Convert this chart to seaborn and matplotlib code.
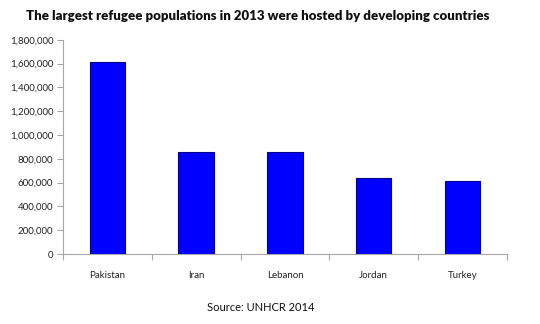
import matplotlib
matplotlib.use("Agg")
import matplotlib.pyplot as plt
import seaborn as sns
import pandas as pd
import numpy as np
from matplotlib.ticker import FuncFormatter, FixedLocator

countries = ["Pakistan", "Iran", "Lebanon", "Jordan", "Turkey"]
refugees = [1616507, 857354, 856546, 641915, 609938]
y_ticks = [0, 200000, 400000, 600000, 800000, 1000000, 1200000, 1400000, 1600000, 1800000]

sns.set_theme(style="white")
plt.rcParams["font.family"] = ["Lato", "DejaVu Sans"]

df = pd.DataFrame({"country": countries, "refugees": refugees})

fig = plt.figure(figsize=(5.4, 3.24), dpi=100)
ax = fig.add_axes([0.1167, 0.216, 0.822, 0.661])

sns.barplot(data=df, x="country", y="refugees", ax=ax, color="#0000FF",
            edgecolor="#00008B", linewidth=0.8, width=0.4, saturation=1)

ax.set_xlim(-0.5, len(countries) - 0.5)
ax.set_ylim(0, 1800000)
ax.set_yticks(y_ticks)
ax.yaxis.set_major_formatter(FuncFormatter(lambda v, p: f"{int(v):,}"))
ax.set_xlabel("")
ax.set_ylabel("")

for side in ["top", "right"]:
    ax.spines[side].set_visible(False)
for side in ["left", "bottom"]:
    ax.spines[side].set_color("#A6A6A6")
    ax.spines[side].set_linewidth(0.8)

ax.tick_params(axis="y", which="major", left=True, length=4, width=0.8,
               color="#A6A6A6", labelsize=7, labelcolor="#222222", pad=3)
ax.tick_params(axis="x", which="major", bottom=False, labelsize=7,
               labelcolor="#222222", pad=6)
ax.xaxis.set_minor_locator(FixedLocator(np.arange(-0.5, len(countries), 1.0)))
ax.tick_params(axis="x", which="minor", bottom=True, length=4, width=0.8,
               color="#A6A6A6")

fig.text(0.478, 0.95, "The largest refugee populations in 2013 were hosted by developing countries",
         ha="center", va="center", fontsize=9.5, fontweight="heavy", color="#111111")
fig.text(0.483, 0.05, "Source: UNHCR 2014", ha="center", va="center",
         fontsize=8, color="#111111")

fig.savefig("out.png", dpi=100)
